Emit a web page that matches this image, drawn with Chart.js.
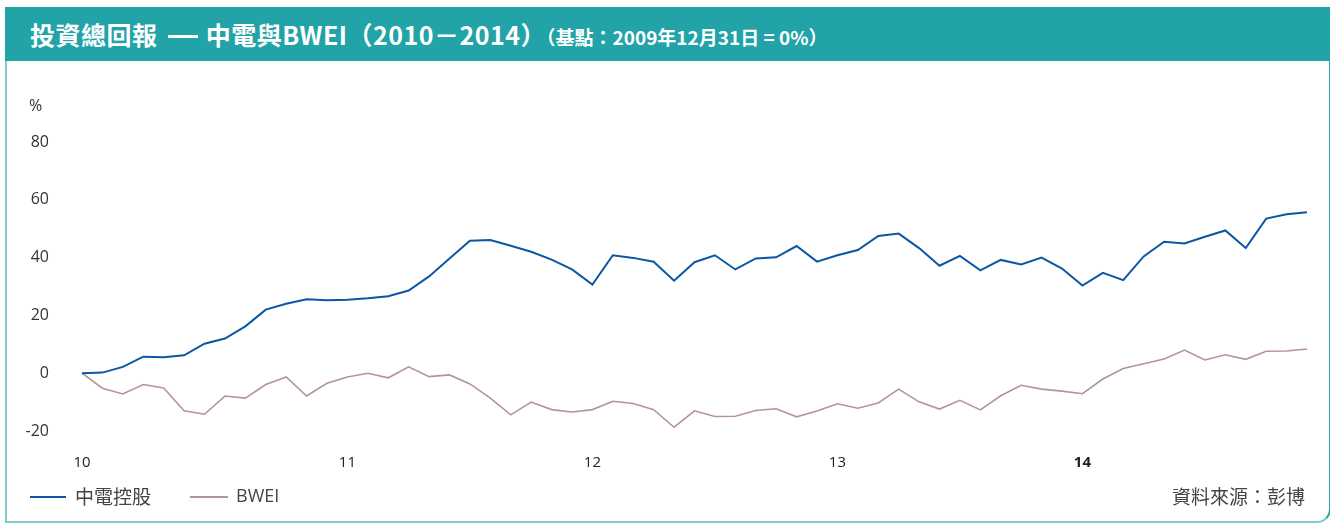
<!DOCTYPE html>
<html>
<head>
<meta charset="utf-8">
<script src="https://cdn.jsdelivr.net/npm/chart.js@4.4.1/dist/chart.umd.min.js"></script>
<style>
  body { margin: 0; background: #fff; }
  #wrap { position: relative; width: 1330px; height: 525px; overflow: hidden; }
  #card {
    position: absolute; left: 5px; top: 7px; width: 1322px; height: 514px;
    border-left: 2px solid #7fcbce; border-right: 2px solid #2aa5aa; border-bottom: 2px solid #7fcbce;
    border-bottom-right-radius: 14px;
  }
  #head {
    position: absolute; left: 5px; top: 7px; width: 1325px; height: 54px; background: #21a3a8;
    color: #fff; font-weight: bold; white-space: nowrap;
  }
  #head .big { position: absolute; left: 25px; top: 9px; font-size: 25px; font-family: "Noto Sans CJK TC", sans-serif; letter-spacing: 0.5px; }
  #head .dash { display: inline-block; width: 30px; height: 3px; background: #fff; vertical-align: middle; margin: 0 8px 0 4px; position: relative; top: -2px; }
  #head .small { font-size: 19px; letter-spacing: 0; }
  canvas { position: absolute; left: 0; top: 0; }
  .txt { position: absolute; font-family: "Open Sans", "Noto Sans CJK TC", sans-serif; color: #333; white-space: nowrap; }
  .swatch { position: absolute; height: 2px; }
</style>
</head>
<body>
<div id="wrap">
  <div id="card"></div>
  <div id="head"><div class="big">投資總回報 <span class="dash"></span>中電與BWEI（2010－2014）<span class="small">（基點：2009年12月31日 = 0%）</span></div></div>
  <canvas id="myChart" width="1330" height="525"></canvas>
  <div class="txt" style="left:29px; top:94px; font-size:16px;">%</div>
  <div class="swatch" style="left:30px; top:496px; width:36px; background:#0b57a4;"></div>
  <div class="txt" style="left:75px; top:482px; font-size:19px; color:#444;">中電控股</div>
  <div class="swatch" style="left:190px; top:496px; width:38px; background:#b49595;"></div>
  <div class="txt" style="left:236px; top:483px; font-size:18px; color:#444;">BWEI</div>
  <div class="txt" style="right:25px; top:482px; font-size:19px; color:#444;">資料來源：彭博</div>
</div>
<script>
// monthly points, Dec 2009 (= 0) to Dec 2014
const yearTicks = ["10", "11", "12", "13", "14"];
const yearTickIdx = [0, 13, 25, 37, 49];

const clp = [
  0, 0.2, 2.2, 5.7, 5.5, 6.2, 10.2, 12.0, 16.2, 22.0, 24.0, 25.6, 25.2,
  25.4, 25.9, 26.6, 28.6, 33.5, 39.7, 45.8, 46.1, 44.1, 42.0, 39.3, 35.9,
  30.7, 40.8, 39.9, 38.6, 32.0, 38.4, 40.8, 35.9, 39.7, 40.1, 44.0, 38.6,
  40.8, 42.6, 47.5, 48.3, 43.3, 37.2, 40.6, 35.6, 39.2, 37.6, 40.0, 36.2,
  30.3, 34.7, 32.2, 40.4, 45.5, 44.9, 47.2, 49.4, 43.3, 53.5, 55.0, 55.7
];
const bwei = [
  0, -5.2, -7.2, -3.9, -5.1, -13.0, -14.2, -7.9, -8.6, -3.9, -1.3, -7.9, -3.5,
  -1.3, 0.0, -1.6, 2.2, -1.2, -0.6, -3.7, -8.6, -14.4, -10.0, -12.6, -13.4,
  -12.6, -9.7, -10.5, -12.6, -18.7, -13.0, -15.0, -14.9, -12.9, -12.3, -15.1, -13.1,
  -10.6, -12.1, -10.3, -5.5, -9.9, -12.4, -9.4, -12.7, -7.8, -4.2, -5.5, -6.2,
  -7.1, -2.0, 1.6, 3.3, 4.9, 8.0, 4.6, 6.4, 4.8, 7.6, 7.7, 8.4
];

let labels = [];
for (let i = 0; i < clp.length; i++) {
  let k = yearTickIdx.indexOf(i);
  labels.push(k >= 0 ? yearTicks[k] : "");
}

const data = {
  labels: labels,
  datasets: [
    { label: "中電控股", data: clp, borderColor: "#0b57a4", borderWidth: 2, pointRadius: 0, tension: 0 },
    { label: "BWEI", data: bwei, borderColor: "#b49595", borderWidth: 1.6, pointRadius: 0, tension: 0 },
  ],
};

const config = {
  type: "line",
  data: data,
  options: {
    responsive: false,
    animation: false,
    layout: { padding: { top: 142, right: 22, left: 0, bottom: 0 } },
    plugins: { legend: { display: false }, tooltip: { enabled: false } },
    scales: {
      x: {
        grid: { display: false, drawTicks: false },
        border: { display: false },
        afterFit: function (s) { s.height = 94; },
        ticks: {
          autoSkip: false, maxRotation: 0, padding: 23, color: "#222",
          font: function (ctx) {
            let bold = ctx.tick && ctx.tick.label === "14";
            return { family: "Open Sans", size: 15, weight: bold ? "bold" : "normal" };
          },
        },
      },
      y: {
        min: -20, max: 80,
        grid: { display: false, drawTicks: false },
        border: { display: false },
        afterFit: function (s) { s.width = 82; },
        ticks: { stepSize: 20, padding: 33, color: "#333", font: { family: "Open Sans", size: 16 } },
      },
    },
  },
};

new Chart(document.getElementById("myChart"), config);
</script>
</body>
</html>
